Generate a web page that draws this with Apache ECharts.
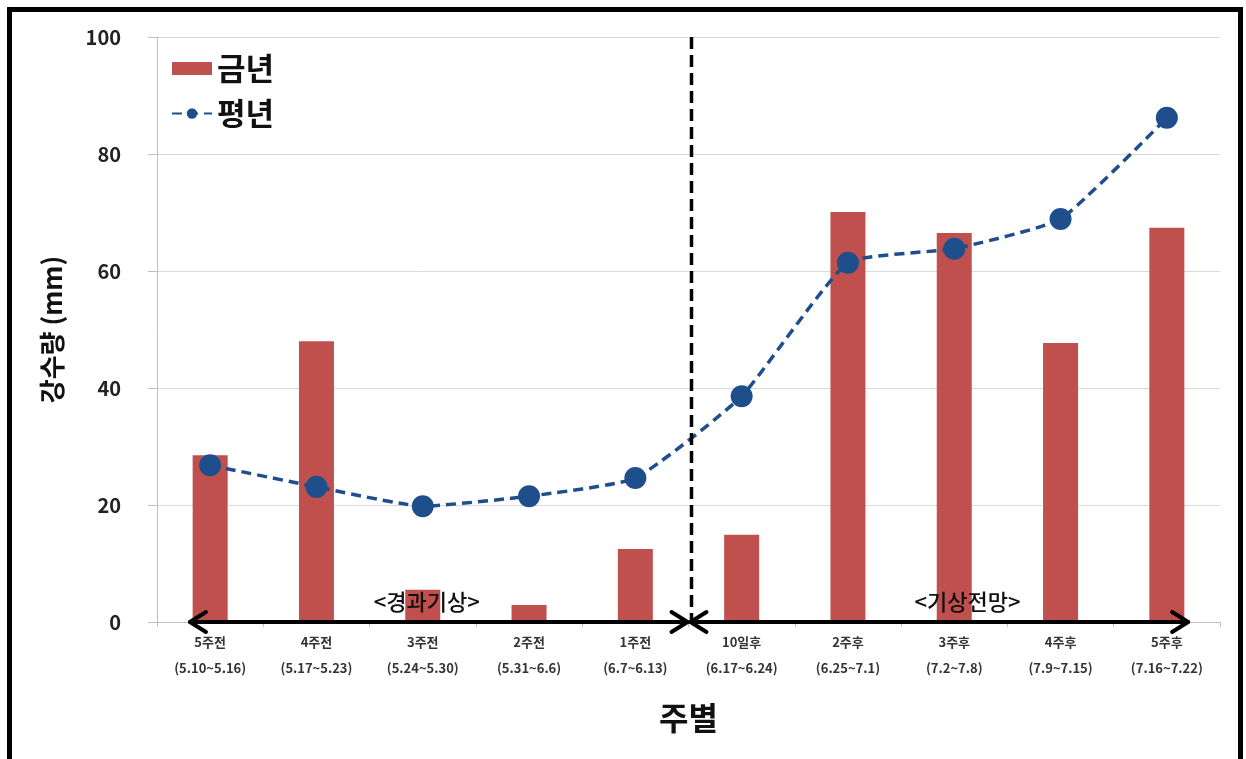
<!DOCTYPE html>
<html>
<head>
<meta charset="utf-8">
<script src="https://cdn.jsdelivr.net/npm/echarts@6/dist/echarts.min.js"></script>
<style>
	html, body { margin: 0; padding: 0; background: #fff; }
	#chart { width: 1246px; height: 759px; }
	#frame {
		position: absolute; left: 7px; top: 7px; width: 1226px; height: 760px;
		border: 5px solid #000; border-bottom: none; pointer-events: none;
	}
</style>
</head>
<body>
<div id="chart"></div>
<div id="frame"></div>
<script>
// weeks (two-line labels)
var weeks = ['5주전', '4주전', '3주전', '2주전', '1주전', '10일후', '2주후', '3주후', '4주후', '5주후'];
var periods = ['(5.10~5.16)', '(5.17~5.23)', '(5.24~5.30)', '(5.31~6.6)', '(6.7~6.13)',
	'(6.17~6.24)', '(6.25~7.1)', '(7.2~7.8)', '(7.9~7.15)', '(7.16~7.22)'];

// rainfall (mm)
var thisYear = [28.5, 48.0, 5.5, 2.9, 12.5, 14.9, 70.1, 66.5, 47.7, 67.4];
var normalYear = [26.8, 23.1, 19.8, 21.5, 24.6, 38.6, 61.4, 63.8, 68.9, 86.2];

var yTicks = { min: 0, max: 100, interval: 20 };
var sections = ['<경과기상>', '<기상전망>'];

var FONT = '"Noto Sans CJK KR", "Noto Sans", sans-serif';

var categories = weeks.map(function (w, i) { return w + '\n' + periods[i]; });

var chart = echarts.init(document.getElementById('chart'));

chart.setOption({
	animation: false,
	textStyle: { fontFamily: FONT },
	grid: { left: 157, right: 26, top: 37, bottom: 137 },
	legend: {
		orient: 'vertical',
		left: 166,
		top: 48,
		itemGap: 14,
		itemWidth: 40,
		itemHeight: 13,
		textStyle: { fontSize: 31, fontWeight: 'bold', color: '#111', fontFamily: FONT },
		data: [{ name: '금년', icon: 'rect' }, { name: '평년' }]
	},
	xAxis: {
		type: 'category',
		data: categories,
		name: '주별',
		nameLocation: 'middle',
		nameGap: 80,
		nameTextStyle: { fontSize: 32, fontWeight: 'bold', color: '#111', fontFamily: FONT },
		axisLine: { lineStyle: { color: '#bfbfbf', width: 1 } },
		axisTick: { show: true, length: 5, lineStyle: { color: '#bfbfbf' } },
		axisLabel: {
			margin: 7,
			fontSize: 13,
			fontWeight: 'bold',
			color: '#333',
			lineHeight: 26,
			fontFamily: FONT
		}
	},
	yAxis: {
		type: 'value',
		min: yTicks.min,
		max: yTicks.max,
		interval: yTicks.interval,
		name: '강수량 (mm)',
		nameLocation: 'middle',
		nameGap: 92,
		nameTextStyle: { fontSize: 26, fontWeight: 'bold', color: '#111', fontFamily: FONT },
		axisLine: { show: true, lineStyle: { color: '#bfbfbf', width: 1 } },
		axisTick: { show: true, length: 9, lineStyle: { color: '#bfbfbf' } },
		axisLabel: { margin: 36, fontSize: 20, fontWeight: 'bold', color: '#222', fontFamily: FONT },
		splitLine: { lineStyle: { color: '#d9d9d9', width: 1 } }
	},
	series: [
		{
			name: '금년',
			type: 'bar',
			data: thisYear,
			barWidth: 35,
			itemStyle: { color: '#c0504d' },
			z: 2
		},
		{
			name: '평년',
			type: 'line',
			data: normalYear,
			smooth: 0.15,
			symbol: 'circle',
			symbolSize: 22,
			itemStyle: { color: '#1f4e8c' },
			lineStyle: { color: '#1f4e8c', width: 3.5, type: [10, 6] },
			z: 4
		}
	]
});

// section arrows, divider and captions, placed from the axis scale
function drawAnnotations() {
	var px = function (i) { return chart.convertToPixel({ xAxisIndex: 0 }, i); };
	var y0 = chart.convertToPixel({ yAxisIndex: 0 }, 0);
	var yTop = chart.convertToPixel({ yAxisIndex: 0 }, yTicks.max);
	var band = px(1) - px(0);
	var mid = (px(4) + px(5)) / 2;
	var leftEnd = px(0) - band * 0.19;
	var rightEnd = px(9) + band * 0.2;
	var head = 16;
	var lineStyle = { stroke: '#000', lineWidth: 4, lineCap: 'round', lineJoin: 'round' };

	function arrow(x1, x2) {
		return [
			{ type: 'line', shape: { x1: x1, y1: y0, x2: x2, y2: y0 }, style: lineStyle, z: 10 },
			{ type: 'polyline', shape: { points: [[x1 + head, y0 - 10], [x1, y0], [x1 + head, y0 + 10]] }, style: Object.assign({ fill: null }, lineStyle), z: 10 },
			{ type: 'polyline', shape: { points: [[x2 - head, y0 - 10], [x2, y0], [x2 - head, y0 + 10]] }, style: Object.assign({ fill: null }, lineStyle), z: 10 }
		];
	}

	var captionStyle = { fontSize: 22, fontWeight: 500, fontFamily: FONT, fill: '#111', align: 'center', verticalAlign: 'middle' };

	var elements = [].concat(
		arrow(leftEnd, mid - 1),
		arrow(mid + 2, rightEnd),
		[
			{
				type: 'line',
				shape: { x1: mid + 3, y1: yTop, x2: mid + 3, y2: y0 },
				style: { stroke: '#000', lineWidth: 3.5, lineDash: [12, 6] },
				z: 9
			},
			{
				type: 'text', x: px(2) + 4, y: y0 - 20, z: 11,
				style: Object.assign({ text: sections[0] }, captionStyle)
			},
			{
				type: 'text', x: px(8) - 93, y: y0 - 20, z: 11,
				style: Object.assign({ text: sections[1] }, captionStyle)
			}
		]
	);

	chart.setOption({ graphic: { elements: elements } });
}

drawAnnotations();
</script>
</body>
</html>
